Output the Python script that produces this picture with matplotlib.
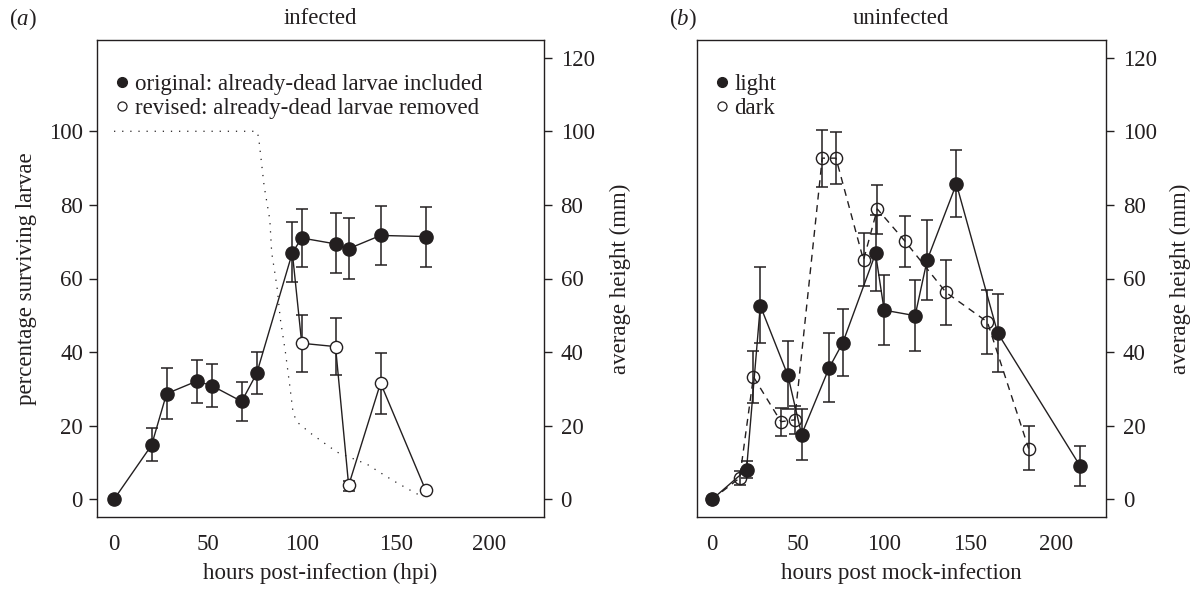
import numpy as np
import matplotlib
matplotlib.use("Agg")
import matplotlib.pyplot as plt
from matplotlib.lines import Line2D

plt.rcParams['font.family'] = ['Liberation Serif', 'DejaVu Serif']
plt.rcParams['mathtext.fontset'] = 'custom'
plt.rcParams['mathtext.rm'] = 'Liberation Serif'
plt.rcParams['mathtext.it'] = 'Liberation Serif:italic'

INK = '#231f20'
FS = 16.5

# ---------------- data: panel (a) infected ----------------
a_hpi = [0, 20, 28, 44, 52, 68, 76, 95, 100, 118, 125, 142, 166]
a_orig = [0, 14.7, 28.7, 32.1, 30.9, 26.6, 34.2, 67.0, 71.0, 69.4, 68.1, 71.7, 71.4]
a_orig_hi = [np.nan, 19.4, 35.7, 37.9, 36.8, 31.9, 40.1, 75.4, 79.0, 77.7, 76.5, 79.8, 79.5]
a_orig_lo = [np.nan, 10.3, 21.9, 26.3, 25.0, 21.4, 28.6, 59.0, 63.1, 61.4, 59.9, 63.7, 63.2]

a_rev_hpi = [95, 100, 118, 125, 142, 166]
a_rev = [67.0, 42.4, 41.5, 3.8, 31.6, 2.5]
a_rev_hi = [np.nan, 50.2, 49.3, 5.1, 39.8, np.nan]
a_rev_lo = [np.nan, 34.7, 33.7, 2.4, 23.3, np.nan]

surv_hpi = [0, 76, 77, 80, 83, 84, 86, 87, 88.6, 91.3, 93.6, 95.4, 97.5,
            104.6, 111.7, 118.9, 134.9, 142, 149, 157, 165]
surv_pct = [100, 100, 98.5, 85, 76, 67, 60.5, 57, 49, 40, 31, 23.5, 21,
            18, 15.4, 12.8, 9.5, 7.2, 5.0, 2.7, 0.5]

# ---------------- data: panel (b) uninfected ----------------
light_h = [0, 20, 28, 44, 52, 68, 76, 95, 100, 118, 125, 142, 166, 214]
light = [0, 8.1, 52.6, 33.7, 17.6, 35.7, 42.6, 66.8, 51.4, 49.9, 65.0, 85.7, 45.2, 9.0]
light_hi = [np.nan, 10.5, 63.1, 43.0, 24.5, 45.1, 51.8, 77.3, 61.0, 59.6, 75.8, 94.8, 55.7, 14.6]
light_lo = [np.nan, 5.7, 42.4, 24.5, 10.8, 26.5, 33.6, 56.5, 41.8, 40.2, 54.2, 76.7, 34.7, 3.5]

dark_h = [0, 16, 24, 40, 48, 64, 72, 88, 96, 112, 136, 160, 184]
dark = [0, 5.8, 33.3, 21.1, 21.6, 92.7, 92.7, 65.0, 78.9, 70.2, 56.2, 48.2, 13.8]
dark_hi = [np.nan, 7.7, 40.2, 24.8, 25.3, 100.4, 99.8, 72.4, 85.5, 76.9, 65.0, 56.9, 19.8]
dark_lo = [np.nan, 3.9, 26.2, 17.2, 17.8, 84.8, 85.7, 58.0, 72.2, 63.2, 47.4, 39.6, 7.9]

x_ticks = [0, 50, 100, 150, 200]
left_ticks_a = [0, 20, 40, 60, 80, 100]
right_ticks = [0, 20, 40, 60, 80, 100, 120]


def yerr(v, lo, hi):
    v = np.asarray(v, float)
    return [v - np.asarray(lo, float), np.asarray(hi, float) - v]


W, H = 1198, 589
fig = plt.figure(figsize=(W / 100, H / 100), dpi=100)


def px_axes(x0, x1, y0, y1):
    return fig.add_axes([x0 / W, 1 - y1 / H, (x1 - x0) / W, (y1 - y0) / H])


def style(ax, left_ticks):
    ax.set_xlim(-8.8, 228.8)
    ax.set_ylim(-4.8, 124.8)
    ax.set_xticks(x_ticks)
    ax.tick_params(axis='x', length=0, pad=12, labelsize=FS, colors=INK)
    if left_ticks:
        ax.set_yticks(left_ticks)
        ax.tick_params(axis='y', length=5.5, width=1, pad=5, labelsize=FS,
                       colors=INK, direction='out')
    else:
        ax.set_yticks([])
    for s in ax.spines.values():
        s.set_linewidth(1.0)
        s.set_color(INK)
    ax2 = ax.twinx()
    ax2.set_ylim(-4.8, 124.8)
    ax2.set_yticks(right_ticks)
    ax2.tick_params(axis='y', length=5.8, width=1, pad=6.5, labelsize=FS,
                    colors=INK, direction='out')
    for s in ax2.spines.values():
        s.set_visible(False)
    return ax2


# ---------------- panel (a) ----------------
axa = px_axes(97.5, 543.5, 40, 517)
style(axa, left_ticks_a)

axa.plot(surv_hpi, surv_pct, color=INK, lw=0.9, ls=(0, (1, 5.5)), zorder=1)

axa.errorbar(a_hpi, a_orig, yerr=yerr(a_orig, a_orig_lo, a_orig_hi), fmt='none',
             ecolor=INK, elinewidth=1.1, capsize=4.6, capthick=1.1, zorder=2)
axa.errorbar(a_rev_hpi, a_rev, yerr=yerr(a_rev, a_rev_lo, a_rev_hi), fmt='none',
             ecolor=INK, elinewidth=1.1, capsize=4.6, capthick=1.1, zorder=2)
axa.plot(a_hpi, a_orig, color=INK, lw=1.0, marker='o', ms=9.5, mfc=INK, mec=INK,
         zorder=3)
axa.plot(a_rev_hpi, a_rev, color=INK, lw=1.0, marker='o', ms=8.8, mfc='white',
         mec=INK, mew=1.0, markevery=list(range(1, len(a_rev_hpi))), zorder=3)

hand_a = [Line2D([], [], ls='none', marker='o', ms=7, mfc=INK, mec=INK),
          Line2D([], [], ls='none', marker='o', ms=6.5, mfc='white', mec=INK, mew=0.9)]
axa.legend(hand_a, ['original: already-dead larvae included',
                    'revised: already-dead larvae removed'],
           loc='upper left', bbox_to_anchor=(0.042, 0.929), frameon=False,
           borderpad=0, borderaxespad=0, handlelength=0.5, handletextpad=0.3,
           labelspacing=0.13, fontsize=FS, labelcolor=INK)

# ---------------- panel (b) ----------------
axb = px_axes(697, 1105.7, 40, 517)
style(axb, None)

axb.errorbar(light_h, light, yerr=yerr(light, light_lo, light_hi), fmt='none',
             ecolor=INK, elinewidth=1.1, capsize=4.6, capthick=1.1, zorder=2)
axb.errorbar(dark_h, dark, yerr=yerr(dark, dark_lo, dark_hi), fmt='none',
             ecolor=INK, elinewidth=1.1, capsize=4.6, capthick=1.1, zorder=2)
axb.plot(dark_h, dark, color=INK, lw=1.0, ls=(0, (5, 4)), marker='o', ms=8.8,
         mfc='none', mec=INK, mew=1.0, zorder=3)
axb.plot(light_h, light, color=INK, lw=1.0, marker='o', ms=9.5, mfc=INK, mec=INK,
         zorder=4)

hand_b = [Line2D([], [], ls='none', marker='o', ms=7, mfc=INK, mec=INK),
          Line2D([], [], ls='none', marker='o', ms=6.5, mfc='white', mec=INK, mew=0.9)]
axb.legend(hand_b, ['light', 'dark'],
           loc='upper left', bbox_to_anchor=(0.047, 0.929), frameon=False,
           borderpad=0, borderaxespad=0, handlelength=0.5, handletextpad=0.3,
           labelspacing=0.13, fontsize=FS, labelcolor=INK)

# ---------------- text ----------------
def ftext(x, y, s, **kw):
    fig.text(x / W, 1 - y / H, s, fontsize=FS, color=INK, ha='center', va='center', **kw)

ftext(23, 19, r'($\mathit{a}$)')
ftext(320.5, 19, 'infected')
ftext(683, 19, r'($\mathit{b}$)')
ftext(901.4, 19, 'uninfected')
ftext(27, 278.5, 'percentage surviving larvae', rotation=90)
ftext(620, 278.5, 'average height (mm)', rotation=90)
ftext(1180, 278.5, 'average height (mm)', rotation=90)
ftext(320.5, 573, 'hours post-infection (hpi)')
ftext(901.4, 573, 'hours post mock-infection')

fig.savefig('out.png', dpi=100)
